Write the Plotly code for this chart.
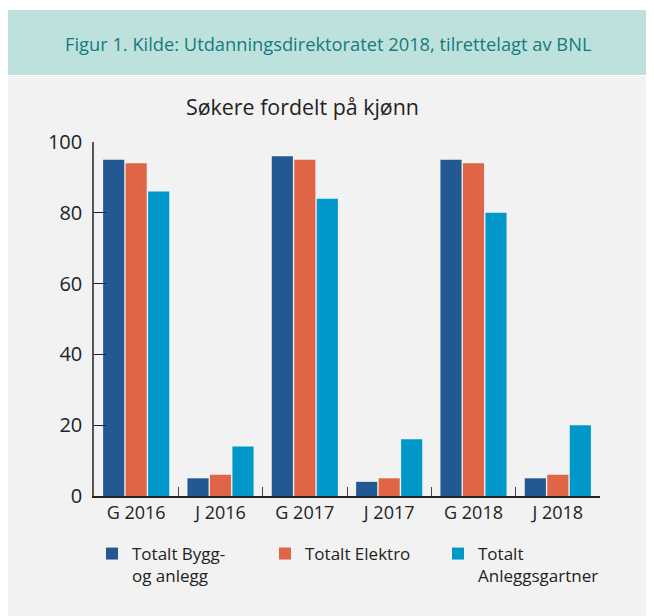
import plotly.graph_objects as go

categories = ["G 2016", "J 2016", "G 2017", "J 2017", "G 2018", "J 2018"]
series_names = ["Totalt Bygg-<br>og anlegg", "Totalt Elektro", "Totalt<br>Anleggsgartner"]
bygg = [95, 5, 96, 4, 95, 5]
elektro = [94, 6, 95, 5, 94, 6]
anlegg = [86, 14, 84, 16, 80, 20]
colors = ["#235993", "#e06446", "#0097c9"]
y_ticks = [0, 20, 40, 60, 80, 100]

OFF = 8  # page body margin
W, H = 654 - OFF, 616 - OFF
L, R, T, B = 94 - OFF, 54, 142 - OFF, 120
pw, ph = W - L - R, H - T - B

def px(x):
    return (x - OFF - L) / pw

def py(y):
    return (H - B - (y - OFF)) / ph

font = "'Open Sans', Lato, sans-serif"

fig = go.Figure()
for name, vals, c in zip(series_names, [bygg, elektro, anlegg], colors):
    fig.add_trace(go.Bar(x=categories, y=vals, name=name, marker=dict(color=c, line=dict(width=0))))

fig.update_layout(
    width=W, height=H,
    margin=dict(l=L, r=R, t=T, b=B, autoexpand=False),
    paper_bgcolor="white",
    plot_bgcolor="#f2f2f2",
    barmode="group",
    bargap=0.2,
    bargroupgap=0.06,
    font=dict(family=font, color="#222222"),
    showlegend=True,
    legend=dict(
        orientation="h", x=px(92), y=py(536), xanchor="left", yanchor="top",
        font=dict(size=17, color="#222222"), entrywidth=128, entrywidthmode="pixels",
        bgcolor="rgba(0,0,0,0)", valign="top", traceorder="normal", itemwidth=30,
    ),
    xaxis=dict(
        showline=True, linecolor="#222222", linewidth=1.5,
        ticks="inside", tickson="boundaries", ticklen=9, tickcolor="#444444",
        tickfont=dict(size=18, color="#222222"), showgrid=False, fixedrange=True,
    ),
    yaxis=dict(
        range=[0, 100], tickvals=y_ticks, showline=True, linecolor="#555555", linewidth=1.5,
        ticks="inside", ticklen=12, tickcolor="#222222", ticklabelstandoff=6,
        tickfont=dict(size=20, color="#222222"), showgrid=False, zeroline=False,
    ),
    shapes=[
        dict(type="rect", xref="paper", yref="paper", x0=px(8), x1=px(660), y0=py(630), y1=py(76),
             fillcolor="#f2f2f2", line=dict(width=0), layer="below"),
        dict(type="rect", xref="paper", yref="paper", x0=px(8), x1=px(660), y0=py(75), y1=py(10),
             fillcolor="#bde1dc", line=dict(width=0), layer="below"),
    ],
    annotations=[
        dict(text="Figur 1. Kilde: Utdanningsdirektoratet 2018, tilrettelagt av BNL", xref="paper", yref="paper",
             x=px(328), y=py(43), xanchor="center", yanchor="middle", showarrow=False,
             font=dict(size=18.3, color="#177a80", family=font)),
        dict(text="Søkere fordelt på kjønn", xref="paper", yref="paper",
             x=px(302), y=py(107), xanchor="center", yanchor="middle", showarrow=False,
             font=dict(size=21.4, color="#222222", family=font)),
    ],
)

fig.write_html("out.html")
